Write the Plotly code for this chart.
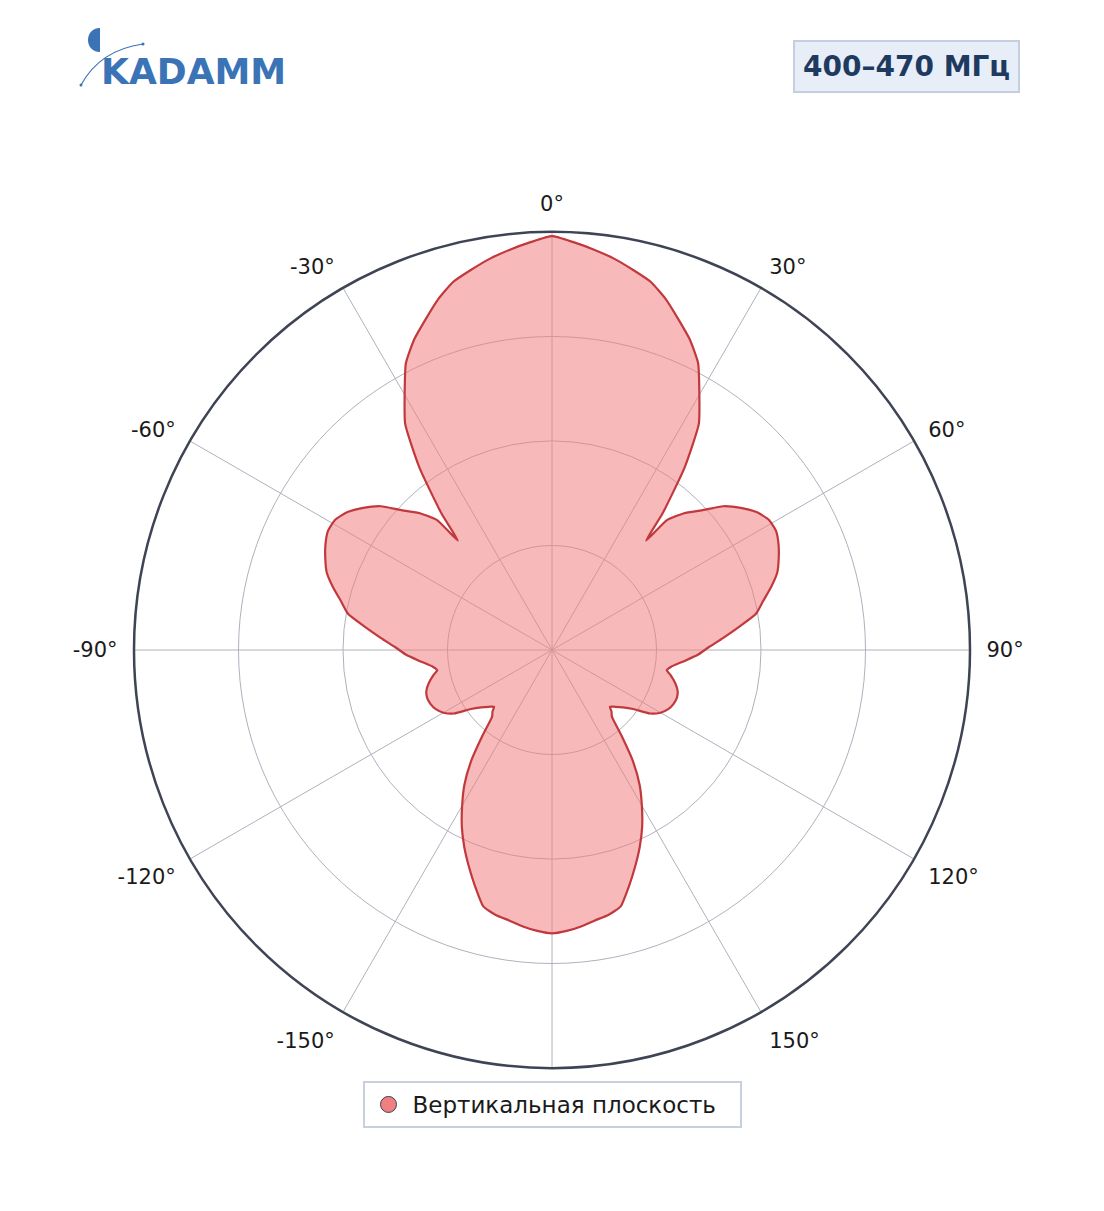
import plotly.graph_objects as go

# ---- data (one half of a symmetric pattern, degrees clockwise from 0) ----
half_theta = [0, 3, 6, 9, 12, 15, 18, 21, 24, 27, 30, 33, 36, 39, 40.7, 41.5, 44, 47, 50,
              53, 56, 59, 62, 65, 68, 71, 74, 77, 80, 83, 86, 89, 92, 95, 98, 100, 102,
              105, 108, 111, 114, 117, 120, 123, 126, 129, 132, 134.4, 136, 138, 141,
              144, 147, 150, 153, 156, 159, 162, 165, 168, 171, 174, 177, 180]
half_r = [0.990, 0.977, 0.963, 0.948, 0.930, 0.912, 0.882, 0.846, 0.812, 0.770, 0.705,
          0.645, 0.540, 0.420, 0.345, 0.415, 0.455, 0.490, 0.535, 0.565, 0.590, 0.605,
          0.607, 0.598, 0.585, 0.570, 0.545, 0.518, 0.495, 0.450, 0.410, 0.375, 0.348,
          0.315, 0.288, 0.279, 0.290, 0.305, 0.316, 0.320, 0.318, 0.312, 0.300, 0.279,
          0.240, 0.218, 0.203, 0.194, 0.205, 0.214, 0.265, 0.330, 0.385, 0.430, 0.475,
          0.516, 0.555, 0.595, 0.635, 0.648, 0.655, 0.665, 0.673, 0.678]

tick_vals = [0, 30, 60, 90, 120, 150, 180, 210, 240, 270, 300, 330]
tick_text = ["0°", "30°", "60°", "90°", "120°", "150°", "", "-150°", "-120°", "-90°", "-60°", "-30°"]
ring_vals = [0.25, 0.5, 0.75, 1.0]

series_name = "Вертикальная плоскость"
band_label = "400–470 МГц"
logo_text = "KADAMM"

# build the full closed contour by mirroring
theta = list(half_theta) + [360 - t for t in reversed(half_theta[:-1])]
r = list(half_r) + list(reversed(half_r[:-1]))

W, H = 1104, 1211
OFF = 8  # page body margin
cx, cy, R = 552 - OFF, 650 - OFF, 418

def px(x):
    return (x - OFF) / W

def py(y):
    return (H - (y - OFF)) / H

fig = go.Figure()
fig.add_trace(go.Scatterpolar(
    r=r, theta=theta, mode="lines", fill="toself",
    fillcolor="rgba(240,128,128,0.55)",
    line=dict(color="#c2393d", width=2.2, shape="spline", smoothing=0.5),
    showlegend=False, hoverinfo="skip"))
fig.add_trace(go.Scatterpolar(
    r=[None], theta=[None], mode="markers", name=series_name,
    marker=dict(symbol="circle", size=20, color="#f08080",
                line=dict(color="#3a3f55", width=1))))

fig.update_layout(
    width=W, height=H,
    margin=dict(l=0, r=0, t=0, b=0),
    paper_bgcolor="white",
    font=dict(family="DejaVu Sans", color="#1a1a1a", size=17),
    polar=dict(
        domain=dict(x=[(cx - R) / W, (cx + R) / W],
                    y=[(H - cy - R) / H, (H - cy + R) / H]),
        bgcolor="white",
        angularaxis=dict(rotation=90, direction="clockwise",
                         tickmode="array", tickvals=tick_vals, ticktext=tick_text,
                         showline=True, linecolor="#3f4455", linewidth=2.5,
                         gridcolor="#aeb2be", gridwidth=1.2,
                         ticks="outside", ticklen=11, tickcolor="rgba(0,0,0,0)",
                         tickfont=dict(size=21, color="#1a1a1a")),
        radialaxis=dict(range=[0, 1], tickmode="array", tickvals=ring_vals,
                        showticklabels=False, ticks="", showline=False,
                        gridcolor="#aeb2be", gridwidth=1.2)),
    legend=dict(x=px(552), y=py(1081), xanchor="center", yanchor="top",
                orientation="h", bgcolor="white", bordercolor="#c8d0dc",
                borderwidth=2, font=dict(size=23, color="#1a1a1a"),
                itemsizing="trace", itemwidth=38,
                entrywidth=322, entrywidthmode="pixels"),
)

# band label box (top right)
fig.add_annotation(x=px(906), y=py(66), xref="paper", yref="paper",
                   text="<b>" + band_label + "</b>", showarrow=False,
                   font=dict(size=28, color="#1f3a60", family="DejaVu Sans"),
                   bgcolor="#e7eef7", bordercolor="#c3cfdf", borderwidth=2,
                   borderpad=8, xanchor="center", yanchor="middle")

# logo (top left)
BLUE = "#3a73b6"
fig.add_annotation(x=px(99), y=py(71), xref="paper", yref="paper",
                   text="<b>" + logo_text + "</b>", showarrow=False,
                   font=dict(size=36, color=BLUE, family="DejaVu Sans"),
                   xanchor="left", yanchor="middle")
# half disc
fig.add_shape(type="path", xref="paper", yref="paper",
              path=(f"M {px(100)},{py(28)} C {px(84)},{py(28)} {px(84)},{py(52)} "
                    f"{px(100)},{py(52)} Z"),
              fillcolor=BLUE, line=dict(width=0))
# orbit arc
fig.add_shape(type="path", xref="paper", yref="paper",
              path=f"M {px(81)},{py(85)} Q {px(100)},{py(50)} {px(143)},{py(44)}",
              line=dict(color=BLUE, width=1.2))
fig.add_shape(type="circle", xref="paper", yref="paper",
              x0=px(79.5), x1=px(82.5), y0=py(86.5), y1=py(83.5),
              fillcolor=BLUE, line=dict(width=0))
fig.add_shape(type="circle", xref="paper", yref="paper",
              x0=px(141.5), x1=px(144.5), y0=py(45.5), y1=py(42.5),
              fillcolor=BLUE, line=dict(width=0))

fig.write_html("out.html")
